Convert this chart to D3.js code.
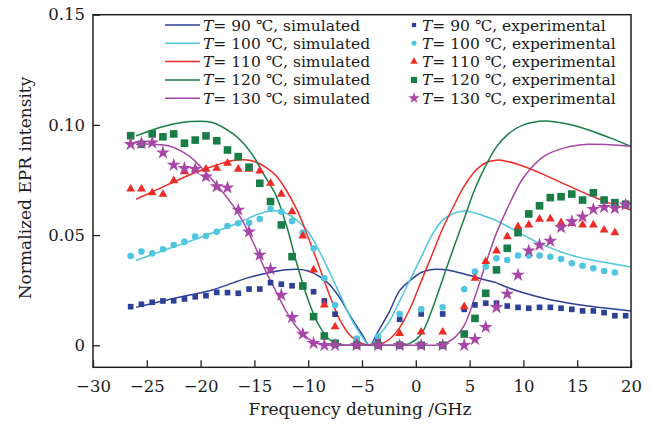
<!DOCTYPE html>
<html>
<head>
<meta charset="utf-8">
<script src="https://cdn.jsdelivr.net/npm/d3@7"></script>
<style>
  body { margin: 0; background: #fff; }
  text { font-family: "DejaVu Serif", "Liberation Serif", serif; fill: #1a1a1a; }
</style>
</head>
<body>
<script>
// temperatures and series colours
var temps = [90, 100, 110, 120, 130];
var colors = ["#2e3f98", "#4fc6df", "#ee2b25", "#197d46", "#a846a8"];

// simulated curves, sampled along simX (GHz)
var simX = [-26, -25, -23, -21, -19, -17, -16, -15, -14, -13, -12, -11, -10, -9, -8, -7, -6, -5, -4.3,
    -3.5, -2.5, -1.5, -0.5, 0.5, 1.5, 2.5, 3.5, 4.5, 5.5, 6.5, 7.5, 8.5, 10, 12, 14, 16, 18, 20];
var sim90 = [0.0172, 0.0184, 0.0207, 0.0228, 0.0250, 0.0283, 0.0300, 0.0314, 0.0326, 0.0336, 0.0343, 0.0345, 0.0337, 0.0314, 0.0275, 0.0210, 0.0125, 0.0050, 0,
    0.0063, 0.0148, 0.0248, 0.0295, 0.0330, 0.0344, 0.0344, 0.0336, 0.0323, 0.0310, 0.0296, 0.0283, 0.0263, 0.0238, 0.0212, 0.0193, 0.0178, 0.0167, 0.0156];
var sim100 = [0.0384, 0.0403, 0.0438, 0.0472, 0.0508, 0.0546, 0.0566, 0.0588, 0.0605, 0.0610, 0.0598, 0.0565, 0.0515, 0.0430, 0.0330, 0.0225, 0.0120, 0.0040, 0,
    0.0040, 0.0105, 0.0200, 0.0300, 0.0400, 0.0500, 0.0568, 0.0598, 0.0609, 0.0600, 0.0584, 0.0565, 0.0540, 0.0500, 0.0452, 0.0415, 0.0390, 0.0372, 0.0355];
var sim110 = [0.0662, 0.0685, 0.0730, 0.0774, 0.0810, 0.0838, 0.0842, 0.0834, 0.0810, 0.0770, 0.0700, 0.0610, 0.0490, 0.0360, 0.0225, 0.0110, 0.0040, 0.0008, 0,
    0.0002, 0.0025, 0.0080, 0.0170, 0.0290, 0.0410, 0.0530, 0.0630, 0.0722, 0.0790, 0.0828, 0.0840, 0.0834, 0.0812, 0.0772, 0.0728, 0.0684, 0.0645, 0.0615];
var sim120 = [0.0950, 0.0968, 0.0998, 0.1015, 0.1012, 0.0960, 0.0915, 0.0850, 0.0765, 0.0680, 0.0540, 0.0360, 0.0205, 0.0090, 0.0025, 0.0003, 0, 0, 0,
    0, 0, 0, 0.0010, 0.0050, 0.0160, 0.0300, 0.0440, 0.0575, 0.0710, 0.0815, 0.0900, 0.0955, 0.1000, 0.1018, 0.1005, 0.0978, 0.0942, 0.0902];
var sim130 = [0.0912, 0.0913, 0.0905, 0.0856, 0.0756, 0.0635, 0.0555, 0.0455, 0.0342, 0.0245, 0.0150, 0.0078, 0.0030, 0.0006, 0, 0, 0, 0, 0,
    0, 0, 0, 0, 0, 0, 0.0005, 0.0030, 0.0090, 0.0220, 0.0370, 0.0510, 0.0620, 0.0760, 0.0860, 0.0898, 0.0912, 0.0910, 0.0903];

// experimental points, at expX (GHz); null = no point
var expX = [-26.5, -25.5, -24.5, -23.5, -22.5, -21.5, -20.5, -19.5, -18.5, -17.5, -16.5, -15.5, -14.5, -13.5, -12.5, -11.5, -10.5, -9.5, -8.5, -7.5,
    -5.5, -3.5, -1.5, 0.5, 2.5, 4.5,
    5.5, 6.5, 7.5, 8.5, 9.5, 10.5, 11.5, 12.5, 13.5, 14.5, 15.5, 16.5, 17.5, 18.5, 19.5];
var exp90 = [0.0175, 0.0186, 0.0195, 0.0201, 0.0202, 0.0210, 0.0220, 0.0225, 0.0240, 0.0239, 0.0236, 0.0255, 0.0255, 0.0284, 0.0277, 0.0270, 0.0269, 0.0243, 0.0201, 0.0141,
    0.0027, 0.0030, 0.0118, 0.0142, 0.0142, 0.0163,
    0.0183, 0.0191, 0.0191, 0.0178, 0.0172, 0.0168, 0.0172, 0.0172, 0.0168, 0.0163, 0.0156, 0.0156, 0.0148, 0.0134, 0.0134];
var exp100 = [0.0405, 0.0425, 0.0417, 0.0436, 0.0455, 0.0470, 0.0493, 0.0496, 0.0515, 0.0541, 0.0554, 0.0556, 0.0573, 0.0618, 0.0606, 0.0564, 0.0511, 0.0440, 0.0304, 0.0183,
    0.0030, 0.0040, 0.0142, 0.0163, 0.0172, 0.0254,
    0.0334, 0.0357, 0.0395, 0.0387, 0.0407, 0.0407, 0.0407, 0.0402, 0.0391, 0.0372, 0.0361, 0.0349, 0.0337, 0.0330, null];
var exp110 = [0.0709, 0.0709, 0.0692, 0.0685, 0.0747, 0.0788, 0.0799, 0.0799, 0.0803, 0.0826, 0.0799, 0.0799, 0.0791, 0.0735, 0.0686, 0.0606, 0.0496, 0.0342, 0.0183, 0.0084,
    0.0010, 0.0010, 0.0054, 0.0060, 0.0060, 0.0175,
    0.0304, 0.0380, 0.0428, 0.0493, 0.0538, 0.0546, 0.0572, 0.0573, 0.0556, 0.0553, 0.0546, 0.0546, 0.0523, 0.0511, null];
var exp120 = [0.0951, 0.0912, 0.0959, 0.0946, 0.0959, 0.0917, 0.0931, 0.0950, 0.0928, 0.0886, 0.0856, 0.0808, 0.0735, 0.0652, 0.0546, 0.0402, 0.0269, 0.0130, 0.0042, 0.0009,
    0, 0, 0, 0, 0, 0.0051,
    0.0122, 0.0236, 0.0342, 0.0440, 0.0511, 0.0596, 0.0633, 0.0670, 0.0674, 0.0686, 0.0659, 0.0692, 0.0659, 0.0647, 0.0640];
var exp130 = [0.0912, 0.0917, 0.0919, 0.0874, 0.0818, 0.0803, 0.0799, 0.0765, 0.0720, 0.0715, 0.0614, 0.0515, 0.0410, 0.0345, 0.0228, 0.0127, 0.0051, 0.0009, 0, 0,
    0, 0, 0, 0, 0, 0,
    0.0027, 0.0082, 0.0172, 0.0233, 0.0319, 0.0429, 0.0455, 0.0473, 0.0535, 0.0561, 0.0583, 0.0617, 0.0626, 0.0621, 0.0637];

// axis ticks
var xTicks = [-30, -25, -20, -15, -10, -5, 0, 5, 10, 15, 20];
var yTicks = [0, 0.05, 0.10, 0.15];

var sims = [sim90, sim100, sim110, sim120, sim130];
var exps = [exp90, exp100, exp110, exp120, exp130];

// marker shape / size per series (plot, legend)
var shapes = [d3.symbolSquare, d3.symbolCircle, d3.symbolTriangle, d3.symbolSquare, d3.symbolStar];
var sizes = [32, 34, 34, 58, 60];
var legSizes = [18, 20, 24, 38, 40];

var w = 652, h = 425;
var svg = d3.select("body").append("svg")
    .attr("width", w)
    .attr("height", h);

var x = d3.scaleLinear().domain([-30, 20]).range([93, 631]);
var y = d3.scaleLinear().domain([-0.01, 0.15]).range([367.3, 14.7]);

// axes, ticks pointing inward
var xAxis = d3.axisBottom(x)
    .tickValues(xTicks)
    .tickFormat(d3.format("d"))
    .tickSizeInner(-7)
    .tickSizeOuter(0)
    .tickPadding(13);
var gx = svg.append("g")
    .attr("transform", "translate(0," + y(-0.01) + ")")
    .call(xAxis);

var yAxis = d3.axisLeft(y)
    .tickValues(yTicks)
    .tickFormat(function(d){ return d === 0 ? "0" : d3.format(".2f")(d); })
    .tickSizeInner(-7)
    .tickSizeOuter(0)
    .tickPadding(8);
var gy = svg.append("g")
    .attr("transform", "translate(" + x(-30) + ",0)")
    .call(yAxis);

[gx, gy].forEach(function(g){
    g.select(".domain").remove();
    g.selectAll(".tick line").attr("stroke", "#222").attr("stroke-width", 1.3);
    g.selectAll(".tick text")
        .style("font-family", "'DejaVu Serif', serif")
        .style("font-size", "16.5px")
        .attr("fill", "#1a1a1a");
});

// simulated lines
var line = d3.line()
    .x(function(d){ return x(d[0]); })
    .y(function(d){ return y(Math.max(d[1], 0)); })
    .curve(d3.curveCatmullRom.alpha(0.5));

sims.forEach(function(s, i){
    svg.append("path")
        .datum(simX.map(function(v, j){ return [v, s[j]]; }))
        .attr("fill", "none")
        .attr("stroke", colors[i])
        .attr("stroke-width", 1.5)
        .attr("d", line);
});

// experimental markers
exps.forEach(function(s, i){
    var pts = expX.map(function(v, j){ return [v, s[j]]; })
        .filter(function(d){ return d[1] !== null; });
    svg.append("g").selectAll("path")
        .data(pts)
        .enter()
        .append("path")
        .attr("transform", function(d){ return "translate(" + x(d[0]) + "," + y(d[1]) + ")"; })
        .attr("d", d3.symbol().type(shapes[i]).size(sizes[i]))
        .attr("fill", colors[i]);
});

// frame
svg.append("rect")
    .attr("x", x(-30))
    .attr("y", y(0.15))
    .attr("width", x(20) - x(-30))
    .attr("height", y(-0.01) - y(0.15))
    .attr("fill", "none")
    .attr("stroke", "#222")
    .attr("stroke-width", 1.5);

// legend
var rowY = [25, 43.3, 61.6, 79.9, 98.2];
var leg = svg.append("g").attr("class", "legend");

temps.forEach(function(t, i){
    leg.append("line")
        .attr("x1", 165).attr("x2", 200)
        .attr("y1", rowY[i]).attr("y2", rowY[i])
        .attr("stroke", colors[i])
        .attr("stroke-width", 1.5);
    var t1 = leg.append("text")
        .attr("x", 203)
        .attr("y", rowY[i] + 5.5)
        .style("font-size", "15.5px");
    t1.append("tspan").attr("font-style", "italic").text("T");
    t1.append("tspan").text("= " + t + " \u2103, simulated");

    leg.append("path")
        .attr("transform", "translate(414," + rowY[i] + ")")
        .attr("d", d3.symbol().type(shapes[i]).size(legSizes[i]))
        .attr("fill", colors[i]);
    var t2 = leg.append("text")
        .attr("x", 422)
        .attr("y", rowY[i] + 5.5)
        .style("font-size", "15.5px");
    t2.append("tspan").attr("font-style", "italic").text("T");
    t2.append("tspan").text("= " + t + " \u2103, experimental");
});

// axis titles
svg.append("text")
    .attr("x", 360)
    .attr("y", 415)
    .attr("text-anchor", "middle")
    .style("font-size", "17px")
    .text("Frequency detuning /GHz");

svg.append("text")
    .attr("transform", "translate(31,188) rotate(-90)")
    .attr("text-anchor", "middle")
    .style("font-size", "17px")
    .text("Normalized EPR intensity");
</script>
</body>
</html>
